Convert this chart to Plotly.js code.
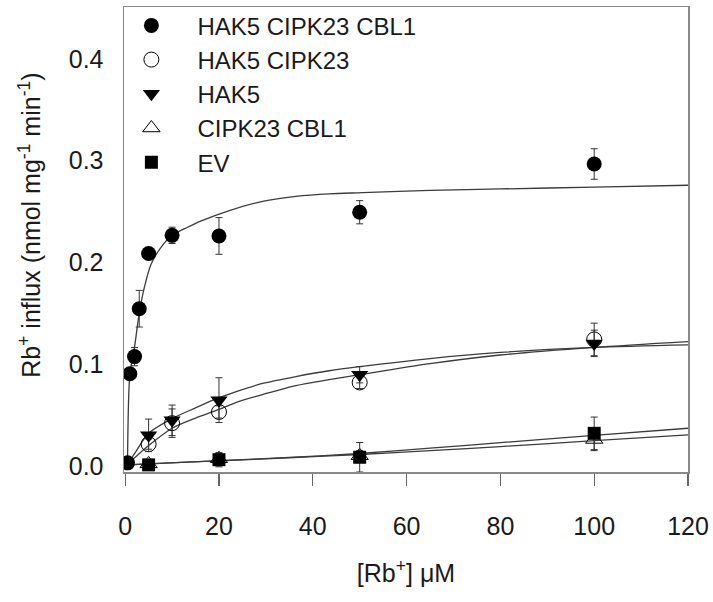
<!DOCTYPE html>
<html><head><meta charset="utf-8">
<script src="https://cdn.plot.ly/plotly-3.0.1.min.js"></script>
<style>html,body{margin:0;padding:0;background:#fff}#chart{width:713px;height:602px}</style>
</head><body><div id="chart"></div>
<script>
// ---- data ----
const seriesNames = ['HAK5 CIPK23 CBL1', 'HAK5 CIPK23', 'HAK5', 'CIPK23 CBL1', 'EV'];

const xA = [0.5, 1, 2, 3, 5, 10, 20, 50, 100];
const yA = [0.003, 0.0906, 0.1074, 0.1545, 0.2087, 0.2266, 0.226, 0.2493, 0.2967];
const eA = [0.002, 0.005, 0.009, 0.018, 0.005, 0.008, 0.018, 0.0114, 0.015];

const xB = [5, 10, 20, 50, 100];           // HAK5 CIPK23 (open circle)
const yB = [0.0214, 0.042, 0.053, 0.082, 0.1243];
const eB = [0.005, 0.014, 0.006, 0.006, 0.016];

const xC = [5, 10, 20, 50, 100];           // HAK5 (filled triangle down)
const yC = [0.030, 0.0448, 0.0646, 0.0896, 0.1204];
const eC = [0.016, 0.015, 0.022, 0.008, 0.013];

const xD = [5, 20, 50, 100];               // CIPK23 CBL1 (open triangle up)
const yD = [0.002, 0.007, 0.010, 0.026];
const eD = [0.002, 0.005, 0.005, 0.011];

const xE = [5, 20, 50, 100];               // EV (filled square)
const yE = [0.001, 0.0061, 0.0085, 0.032];
const eE = [0.002, 0.007, 0.0145, 0.016];

// fitted curves, points
const fitXA = [0.5, 1, 2, 3, 4.1, 5.5, 7.6, 10, 13.3, 16.1, 22.2, 29.3, 36.4, 43.5, 50.6, 65, 80, 100, 120];
const fitYA = [0.002, 0.090, 0.117, 0.150, 0.1756, 0.198, 0.2145, 0.2266, 0.2345, 0.2405, 0.2509, 0.260, 0.2649, 0.2674, 0.2685, 0.2707, 0.2722, 0.2740, 0.2758];
const fitXB = [0.5, 2, 5, 10, 15, 20, 24, 29.3, 36.4, 43.5, 50, 65, 80, 100, 120];
const fitYB = [0.002, 0.008, 0.020, 0.037, 0.047, 0.0555, 0.063, 0.0701, 0.0789, 0.0847, 0.0896, 0.1005, 0.109, 0.1165, 0.1222];
const fitXC = [0.5, 2, 5, 10, 15, 20, 24, 29.3, 36.4, 43.5, 50, 65, 80, 100, 120];
const fitYC = [0.002, 0.012, 0.032, 0.0465, 0.057, 0.067, 0.0735, 0.081, 0.0878, 0.0935, 0.0975, 0.1055, 0.1115, 0.1165, 0.119];
const fitXD = [0.5, 5, 20, 35, 50, 65, 80, 100, 120];
const fitYD = [0.001, 0.002, 0.005, 0.008, 0.0112, 0.015, 0.019, 0.0248, 0.0305];
const fitXE = [0.5, 5, 20, 35, 50, 65, 80, 100, 120];
const fitYE = [0.001, 0.002, 0.0052, 0.0083, 0.0122, 0.0175, 0.0228, 0.030, 0.037];

const xTicks = [0, 20, 40, 60, 80, 100, 120];
const yTicks = [0, 0.1, 0.2, 0.3, 0.4];
const yTickText = ['0.0', '0.1', '0.2', '0.3', '0.4'];
const xTitle = '[Rb<sup>+</sup>] μM';
const yTitle = 'Rb<sup>+</sup> influx (nmol mg<sup>-1</sup> min<sup>-1</sup>)';

// ---- build traces ----
const lineStyle = {color: '#3c3c3c', width: 1.3, shape: 'spline', smoothing: 0.8};
function fit(x, y) {
  return {x: x, y: y, type: 'scatter', mode: 'lines', line: lineStyle, showlegend: false, hoverinfo: 'skip'};
}
function pts(name, x, y, e, symbol, size, filled) {
  return {
    x: x, y: y, name: name, type: 'scatter', mode: 'markers',
    marker: {symbol: symbol, size: size, color: '#000',
             line: {color: '#000', width: filled ? 0 : 1}},
    error_y: {type: 'data', array: e, visible: true, color: '#333', thickness: 1, width: 3.5}
  };
}
const data = [
  fit(fitXA, fitYA), fit(fitXB, fitYB), fit(fitXC, fitYC), fit(fitXD, fitYD), fit(fitXE, fitYE),
  pts(seriesNames[0], xA, yA, eA, 'circle', 15, true),
  pts(seriesNames[1], xB, yB, eB, 'circle-open', 15, false),
  pts(seriesNames[2], xC, yC, eC, 'triangle-down', 15, true),
  pts(seriesNames[3], xD, yD, eD, 'triangle-up-open', 15, false),
  pts(seriesNames[4], xE, yE, eE, 'square', 13, true)
];

const font = {family: 'Liberation Sans, Arial, sans-serif', size: 25, color: '#1a1a1a'};
const legendFont = {family: 'Liberation Sans, Arial, sans-serif', size: 24, color: '#1a1a1a'};
const layout = {
  width: 713, height: 602,
  margin: {l: 124, r: 25, t: 3, b: 130},
  paper_bgcolor: '#fff', plot_bgcolor: '#fff',
  font: font,
  showlegend: true,
  legend: {x: -0.033, y: 1.008, xanchor: 'left', yanchor: 'top', bgcolor: 'rgba(0,0,0,0)',
           font: legendFont, itemwidth: 82, tracegroupgap: 0},
  xaxis: {
    range: [-0.25, 120], tickvals: xTicks, ticks: 'outside', ticklen: 12, tickwidth: 1.2,
    tickcolor: '#666', showline: true, linecolor: '#8a8a8a', linewidth: 1.5, mirror: true,
    showgrid: false, zeroline: false, tickfont: font, ticklabelstandoff: 19,
    title: {text: xTitle, font: font, standoff: 26}
  },
  yaxis: {
    range: [-0.006, 0.451], tickvals: yTicks, ticktext: yTickText, ticks: '',
    showline: true, linecolor: '#8a8a8a', linewidth: 1.5, mirror: true,
    showgrid: false, zeroline: false, tickfont: font, ticklabelstandoff: 14
  },
  annotations: [{
    text: yTitle, textangle: -90, xref: 'paper', yref: 'paper',
    x: -0.168, y: 0.53, xanchor: 'center', yanchor: 'middle', showarrow: false, font: font
  }]
};
Plotly.newPlot('chart', data, layout, {displayModeBar: false, staticPlot: true});
</script>
</body></html>
